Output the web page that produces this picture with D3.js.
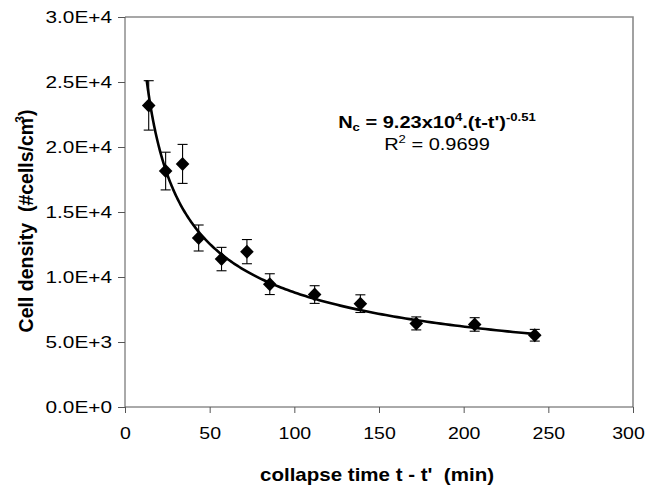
<!DOCTYPE html>
<html>
<head>
<meta charset="utf-8">
<script src="https://cdn.jsdelivr.net/npm/d3@7/dist/d3.min.js"></script>
<style>
  html, body { margin: 0; padding: 0; background: #fff; }
  svg { display: block; font-family: "Liberation Sans", Arial, sans-serif; }
</style>
</head>
<body>
<svg id="chart" width="649" height="489"></svg>
<script>
// ---- data ----
const times    = [14, 24, 34, 43.5, 57, 72, 85.5, 112, 139, 172, 206.5, 242];
const density  = [23200, 18150, 18700, 13000, 11380, 11950, 9450, 8650, 7950, 6430, 6350, 5520];
const errors   = [1900, 1450, 1500, 1000, 900, 930, 800, 680, 680, 500, 520, 450];
const xTicks   = [0, 50, 100, 150, 200, 250, 300];
const yTicks   = [0, 5000, 10000, 15000, 20000, 25000, 30000];
const yTickLabels = ["0.0E+0", "5.0E+3", "1.0E+4", "1.5E+4", "2.0E+4", "2.5E+4", "3.0E+4"];
// power-law trendline as printed on the chart: Nc = 9.23x10^4 (t-t')^-0.51
const fitA = 92300, fitB = -0.51;
const fitRange = [12.8, 243];

const svg = d3.select("#chart");
const m = { left: 125, right: 633, top: 17, bottom: 407 };
const SX = 1.3;   // the reference's lettering is horizontally wide
const SXX = 1.22;

const x = d3.scaleLinear().domain([0, 300]).range([m.left, m.right]);
const y = d3.scaleLinear().domain([0, 30000]).range([m.bottom, m.top]);

// plot-area frame (top/right)
svg.append("path")
  .attr("d", `M${m.left},${m.top}H${m.right}V${m.bottom}`)
  .attr("fill", "none").attr("stroke", "#8a8a8a").attr("stroke-width", 1.6);

// axes
const yAxis = d3.axisLeft(y).tickValues(yTicks).tickSize(7).tickPadding(4)
  .tickFormat((d, i) => yTickLabels[i]);
const gy = svg.append("g").attr("transform", `translate(${m.left},0)`).call(yAxis);
const xAxis = d3.axisBottom(x).tickValues(xTicks).tickSize(6).tickPadding(15)
  .tickFormat(d3.format("d"));
const gx = svg.append("g").attr("transform", `translate(0,${m.bottom})`).call(xAxis);

[gx, gy].forEach(g => {
  g.select(".domain").attr("stroke", "#555").attr("stroke-width", 1);
  g.selectAll(".tick line").attr("stroke", "#555");
  g.selectAll(".tick text").attr("fill", "#000").attr("font-size", 16)
    .attr("font-family", "Liberation Sans, Arial, sans-serif");
});
gy.select(".domain").attr("d", `M0,${m.bottom}V${m.top}`);
gx.select(".domain").attr("d", `M${m.left},0H${m.right}`);
gy.selectAll(".tick text").attr("x", -13 / SX).attr("transform", `scale(${SX},1)`);
gx.selectAll(".tick text").attr("transform", `scale(${SXX},1)`)
  .attr("x", d => d === 300 ? -5 / SXX : 0);

// trendline
const fitPts = d3.range(0, 201).map(i => {
  const t = fitRange[0] * Math.pow(fitRange[1] / fitRange[0], i / 200);
  return [t, fitA * Math.pow(t, fitB)];
});
svg.append("path")
  .datum(fitPts)
  .attr("d", d3.line().x(d => x(d[0])).y(d => y(d[1])))
  .attr("fill", "none").attr("stroke", "#000").attr("stroke-width", 2.6);

// error bars
const pts = times.map((t, i) => ({ t, v: density[i], e: errors[i] }));
const eb = svg.append("g").attr("stroke", "#000").attr("stroke-width", 1.1);
pts.forEach(p => {
  const cx = x(p.t);
  eb.append("line").attr("x1", cx).attr("x2", cx).attr("y1", y(p.v + p.e)).attr("y2", y(p.v - p.e));
  eb.append("line").attr("x1", cx - 5).attr("x2", cx + 5).attr("y1", y(p.v + p.e)).attr("y2", y(p.v + p.e));
  eb.append("line").attr("x1", cx - 5).attr("x2", cx + 5).attr("y1", y(p.v - p.e)).attr("y2", y(p.v - p.e));
});

// diamond markers
svg.append("g").selectAll("path").data(pts).join("path")
  .attr("transform", d => `translate(${x(d.t)},${y(d.v)})`)
  .attr("d", "M0,-7L6.8,0L0,7L-6.8,0Z")
  .attr("fill", "#000");

// equation
const eq = svg.append("g").attr("transform", `translate(437,128) scale(1.25,1)`)
  .append("text").attr("text-anchor", "middle").attr("font-size", 16).attr("font-weight", "bold");
eq.append("tspan").text("N");
eq.append("tspan").attr("font-size", 10.5).attr("dy", 3).text("c");
eq.append("tspan").attr("dy", -3).text(" = 9.23x10");
eq.append("tspan").attr("font-size", 10.5).attr("dy", -7).text("4");
eq.append("tspan").attr("dy", 7).text(".(t-t')");
eq.append("tspan").attr("font-size", 10.5).attr("dy", -7).text("-0.51");

const r2 = svg.append("g").attr("transform", `translate(437,150) scale(1.25,1)`)
  .append("text").attr("text-anchor", "middle").attr("font-size", 16);
r2.append("tspan").text("R");
r2.append("tspan").attr("font-size", 10.5).attr("dy", -7).text("2");
r2.append("tspan").attr("dy", 7).text(" = 0.9699");

// axis titles
svg.append("g").attr("transform", "translate(377,481) scale(1.14,1)")
  .append("text").attr("text-anchor", "middle").attr("font-size", 18).attr("font-weight", "bold")
  .attr("xml:space", "preserve")
  .text("collapse time t - t'  (min)");

const yt = svg.append("text")
  .attr("transform", "translate(33,221) rotate(-90)")
  .attr("text-anchor", "middle").attr("font-size", 19.5).attr("font-weight", "bold")
  .attr("xml:space", "preserve");
yt.append("tspan").text("Cell density  (#cells/cm");
yt.append("tspan").attr("font-size", 12).attr("dy", -9).attr("dx", -5).text("3");
yt.append("tspan").attr("dy", 9).text(")");
</script>
</body>
</html>
